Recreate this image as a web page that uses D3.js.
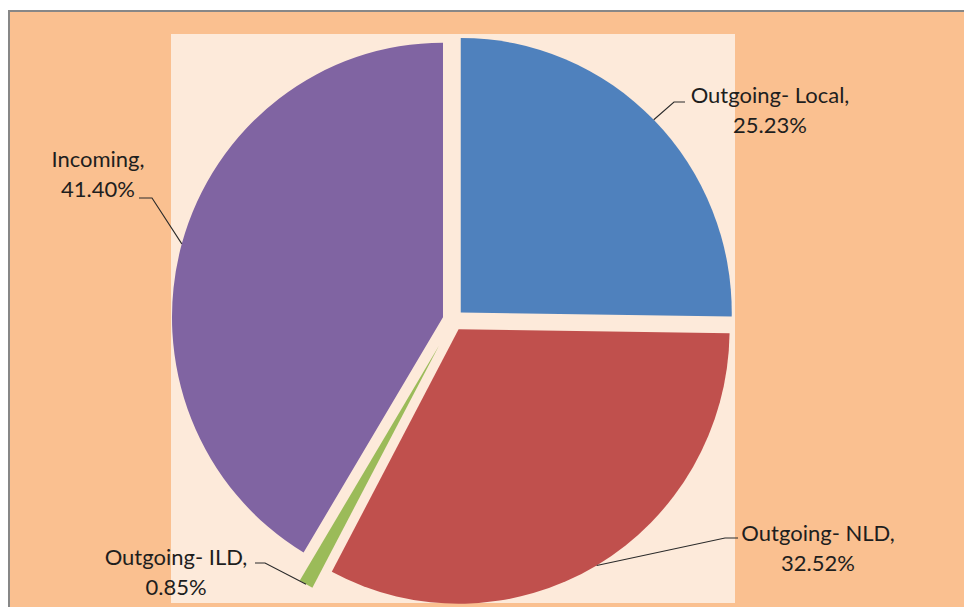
<!DOCTYPE html>
<html>
<head>
<meta charset="utf-8">
<script src="https://cdn.jsdelivr.net/npm/d3@7/dist/d3.min.js"></script>
<style>
  html, body { margin: 0; padding: 0; background: #ffffff; }
  svg { display: block; }
  text { font-family: Lato, "Open Sans", sans-serif; fill: #1e1e1e; }
</style>
</head>
<body>
<svg id="chart" width="964" height="607"></svg>
<script>
// Call traffic share (%) by type, clockwise from 12 o'clock
const categories = ["Outgoing- Local", "Outgoing- NLD", "Outgoing- ILD", "Incoming"];
const shares = [25.23, 32.52, 0.85, 41.40];
const shareLabels = ["25.23%", "32.52%", "0.85%", "41.40%"];

const colors = ["#4f81bd", "#c0504d", "#9bbb59", "#8064a2"];
const explode = [10.6, 10.6, 28.5, 10.6];

const svg = d3.select("#chart");
const W = 964, H = 607;

// chart area and plot area
svg.append("rect")
  .attr("x", 9).attr("y", 11).attr("width", W).attr("height", H)
  .attr("fill", "#fac090").attr("stroke", "#878787").attr("stroke-width", 2);
svg.append("rect")
  .attr("x", 171).attr("y", 34).attr("width", 564).attr("height", 569)
  .attr("fill", "#fdeada");

const cx = 453.2, cy = 320, R = 271, ky = 274.5 / 271;

const pie = d3.pie().sort(null).value(d => d.value).startAngle(0).endAngle(2 * Math.PI);
const arcs = pie(categories.map((c, i) => ({ name: c, value: shares[i], i })));
const arc = d3.arc().innerRadius(0).outerRadius(R);

// position helper: angle measured clockwise from 12 o'clock
function polar(a, r) { return [Math.sin(a) * r, -Math.cos(a) * r * ky]; }

const slices = svg.append("g");
arcs.forEach((a, k) => {
  const mid = (a.startAngle + a.endAngle) / 2;
  const off = polar(mid, explode[k]);
  a.apex = [cx + off[0], cy + off[1]];
  a.mid = mid;
  slices.append("path")
    .attr("d", arc(a))
    .attr("transform", `translate(${a.apex[0]},${a.apex[1]}) scale(1,${ky})`)
    .attr("fill", colors[k]);
});

// label layout: text centre x, first baseline, leader elbow and end
const labelLayout = [
  { tx: 770, ty: 103, elbow: [674, 102], end: [685, 102] },
  { tx: 818, ty: 541, elbow: [725, 538], end: [738, 538] },
  { tx: 176, ty: 565, elbow: [265, 563], end: [255, 563] },
  { tx: 98, ty: 167, elbow: [152, 198], end: [139, 198] }
];

const labels = svg.append("g");
arcs.forEach((a, k) => {
  const L = labelLayout[k];
  const p = polar(a.mid, R);
  const start = [a.apex[0] + p[0], a.apex[1] + p[1]];
  labels.append("path")
    .attr("d", d3.line()([start, L.elbow, L.end]))
    .attr("fill", "none").attr("stroke", "#2a2a2a").attr("stroke-width", 1.1);
  const t = labels.append("text")
    .attr("x", L.tx).attr("y", L.ty)
    .attr("text-anchor", "middle")
    .attr("font-size", 22);
  t.append("tspan").attr("x", L.tx).text(categories[k] + ",");
  t.append("tspan").attr("x", L.tx).attr("dy", 30).text(shareLabels[k]);
});
</script>
</body>
</html>
